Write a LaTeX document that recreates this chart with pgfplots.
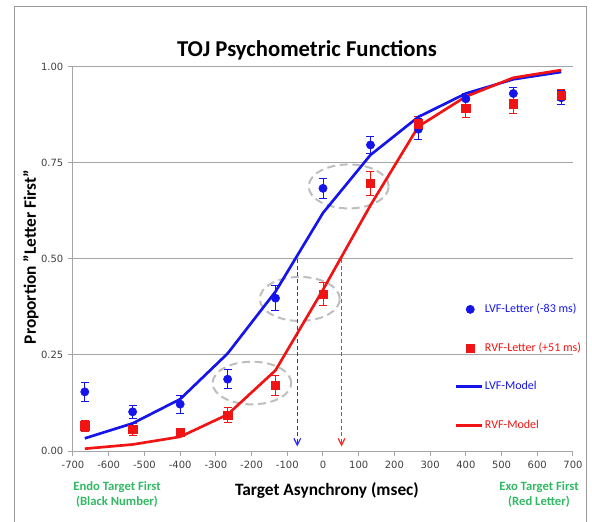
\documentclass[border=0pt]{standalone}
\usepackage{pgfplots}
\pgfplotsset{compat=1.18}
\usepackage{pgfplotstable}
\usepackage{fontspec}
\setmainfont{Carlito}
\newfontfamily\tickfont{DejaVu Sans}
\usetikzlibrary{arrows.meta}
\definecolor{lvf}{RGB}{20,20,235}
\definecolor{rvf}{RGB}{240,20,20}
\definecolor{lvfa}{RGB}{40,40,255}
\definecolor{rvfa}{RGB}{255,40,40}
\definecolor{endo}{RGB}{50,185,100}
\definecolor{gridc}{RGB}{165,165,165}
\definecolor{ellc}{RGB}{190,190,190}

\pgfplotsset{
  markleg/.style={legend image code/.code={\draw[mark repeat=2,mark phase=2,##1] plot coordinates {(2pt,0pt)(11pt,0pt)(20pt,0pt)};}},
  lineleg/.style={legend image code/.code={\draw[##1] (0pt,0pt) -- (20pt,0pt);}},
}

\pgfplotstableread{
x lvf lvfe rvf rvfe lvfm rvfm
-667 0.154 0.024 0.066 0.014 0.033 0.006
-533 0.102 0.018 0.057 0.016 0.072 0.017
-400 0.122 0.024 0.049 0.010 0.135 0.037
-267 0.187 0.025 0.094 0.020 0.254 0.095
-133 0.398 0.033 0.172 0.026 0.415 0.210
0 0.684 0.025 0.409 0.031 0.620 0.420
133 0.797 0.023 0.697 0.032 0.771 0.640
267 0.838 0.027 0.852 0.020 0.870 0.845
400 0.917 0.015 0.892 0.022 0.931 0.923
533 0.931 0.015 0.904 0.024 0.968 0.972
667 0.920 0.018 0.927 0.015 0.987 0.992
}\data

\begin{document}
\begin{tikzpicture}
\useasboundingbox (-54.75pt,-52.5pt) rectangle (389.25pt,338.25pt);
\begin{axis}[
  name=ax, at={(0,0)}, anchor=south west,
  scale only axis, width=375pt, height=288pt,
  xmin=-700, xmax=700, ymin=0, ymax=1,
  axis lines*=left,
  axis line style={gridc, line width=0.75pt},
  xtick={-700,-600,...,700},
  ytick={0,0.25,0.5,0.75,1},
  tick align=outside, major tick length=3.75pt,
  tick style={gridc, line width=0.75pt},
  ymajorgrids, grid style={gridc, line width=0.75pt},
  yticklabel style={/pgf/number format/.cd, fixed, fixed zerofill, precision=2},
  xticklabel style={/pgf/number format/.cd, fixed, 1000 sep={}},
  ticklabel style={font=\tickfont\fontsize{7.5}{9}\selectfont, text=black!75},
  /pgf/number format/assume math mode=true,
  legend cell align=left,
  legend style={at={(0.762,0.386)}, anchor=north west, draw=none, fill=none,
    inner sep=0pt, row sep=19.5pt,
    nodes={inner xsep=1pt, inner ysep=0pt, text height=7pt, text depth=2.5pt},
    font=\fontsize{9}{11}\selectfont},
]
\draw[ellc, line width=1.5pt, dash pattern=on 6pt off 3.5pt] (axis cs:-199,0.177) ellipse [x radius=29.5pt, y radius=16pt];
\draw[ellc, line width=1.5pt, dash pattern=on 6pt off 3.5pt] (axis cs:-65,0.396) ellipse [x radius=30pt, y radius=16.5pt];
\draw[ellc, line width=1.5pt, dash pattern=on 6pt off 3.5pt] (axis cs:72,0.689) ellipse [x radius=30pt, y radius=16.5pt];

\addplot[lvf, only marks, mark=*, mark size=3.1pt, markleg,
  error bars/.cd, y dir=both, y explicit,
  error bar style={line width=0.6pt},
  error mark options={rotate=90, mark size=3pt, line width=0.6pt}]
  table[x=x, y=lvf, y error=lvfe] {\data};
\addlegendentry{\textcolor{lvf}{LVF-Letter (-83 ms)}}

\addplot[rvf, only marks, mark=square*, mark size=3.1pt, markleg,
  error bars/.cd, y dir=both, y explicit,
  error bar style={line width=0.6pt},
  error mark options={rotate=90, mark size=3pt, line width=0.6pt}]
  table[x=x, y=rvf, y error=rvfe] {\data};
\addlegendentry{\textcolor{rvf}{RVF-Letter (+51 ms)}}

\addplot[lvf, line width=2pt, no marks, lineleg]
  table[x=x, y=lvfm] {\data};
\addlegendentry{\textcolor{lvf}{LVF-Model}}

\addplot[rvf, line width=2pt, no marks, lineleg]
  table[x=x, y=rvfm] {\data};
\addlegendentry{\textcolor{rvf}{RVF-Model}}

\addplot[color=lvfa, mark=none, line width=0.9pt, densely dashed, -{Straight Barb[length=5pt,width=5pt]}, forget plot]
  coordinates {(-72,0.5) (-72,0.012)};
\addplot[color=rvfa, mark=none, line width=0.9pt, densely dashed, -{Straight Barb[length=5pt,width=5pt]}, forget plot]
  coordinates {(52,0.5) (52,0.012)};
\end{axis}

\begin{scope}[shift={(ax.south west)}]
\draw[gray!80, line width=0.75pt] (-43.5pt,333pt) rectangle (384.75pt,-70pt);
\node[anchor=base, font=\fontsize{17}{20}\selectfont\bfseries] at (175.5pt,295.5pt) {TOJ Psychometric Functions};
\node[anchor=base, font=\fontsize{13}{15}\selectfont\bfseries] at (190.5pt,-33pt) {Target Asynchrony (msec)};
\node[anchor=base, rotate=90, font=\fontsize{13}{15}\selectfont\bfseries] at (-27.75pt,145.5pt) {Proportion "Letter First"};
\node[anchor=base, text=endo, font=\fontsize{9.5}{11}\selectfont\bfseries] at (33pt,-29.25pt) {Endo Target First};
\node[anchor=base, text=endo, font=\fontsize{9.5}{11}\selectfont\bfseries] at (33pt,-40.5pt) {(Black Number)};
\node[anchor=base, text=endo, font=\fontsize{9.5}{11}\selectfont\bfseries] at (349.5pt,-29.25pt) {Exo Target First};
\node[anchor=base, text=endo, font=\fontsize{9.5}{11}\selectfont\bfseries] at (349.5pt,-40.5pt) {(Red Letter)};
\end{scope}
\end{tikzpicture}
\end{document}
